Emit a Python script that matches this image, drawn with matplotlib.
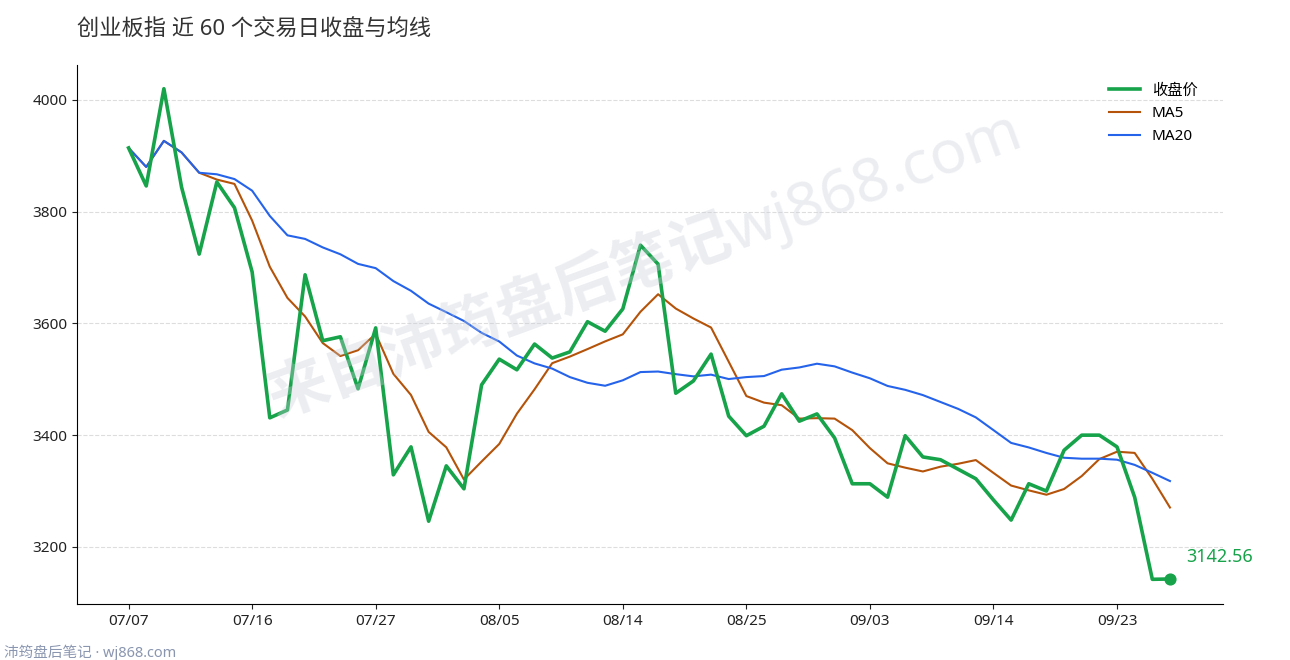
import matplotlib
matplotlib.use("Agg")
import matplotlib.pyplot as plt
import pandas as pd

plt.rcParams['font.family'] = ['Noto Sans', 'Noto Sans CJK SC', 'DejaVu Sans']

close = [3914, 3846, 4020, 3844, 3724, 3853, 3807, 3692, 3431, 3445,
         3687, 3569, 3576, 3483, 3592, 3329, 3379, 3246, 3345, 3304,
         3490, 3536, 3517, 3563, 3538, 3549, 3603, 3586, 3626, 3740,
         3706, 3475, 3497, 3545, 3434, 3399, 3416, 3474, 3425, 3438,
         3395, 3313, 3313, 3289, 3399, 3361, 3356, 3339, 3322, 3284,
         3248, 3313, 3300, 3373, 3400, 3400, 3379, 3289, 3142, 3142.56]
tick_labels = ["07/07", "07/16", "07/27", "08/05", "08/14", "08/25", "09/03", "09/14", "09/23"]
tick_step = 7

s = pd.Series(close)
ma5 = s.rolling(5, min_periods=1).mean()
ma20 = s.rolling(20, min_periods=1).mean()
x = list(range(len(close)))

fig = plt.figure(figsize=(12.9, 6.6), dpi=100)
ax = fig.add_axes([0.06, 0.085, 0.888, 0.817])
ax.plot(x, close, color='#16a34a', lw=2.6, label='收盘价', zorder=3)
ax.plot(x, ma5, color='#b45309', lw=1.5, label='MA5', zorder=2)
ax.plot(x, ma20, color='#2563eb', lw=1.5, label='MA20', zorder=2)
ax.scatter([x[-1]], [close[-1]], color='#16a34a', s=60, zorder=4)
ax.annotate(f"{close[-1]:.2f}", (x[-1], close[-1]), xytext=(12, 12), textcoords='offset points',
            color='#16a34a', fontsize=13, fontweight='bold')

ax.set_xlim(-2.9, 62)
ax.set_ylim(3098, 4063)
ax.set_yticks([3200, 3400, 3600, 3800, 4000])
ax.set_xticks([i * tick_step for i in range(len(tick_labels))])
ax.set_xticklabels(tick_labels)
ax.tick_params(labelsize=11, colors='#222222')
ax.grid(axis='y', color='#dddddd', ls='--', lw=0.8)
for sp in ['top', 'right']:
    ax.spines[sp].set_visible(False)
ax.legend(loc='upper right', frameon=False, fontsize=11, bbox_to_anchor=(0.99, 0.99))
fig.text(0.06, 0.945, "创业板指 近 60 个交易日收盘与均线", fontsize=16, color='#333333')
fig.text(0.5, 0.6, "来自沛筠盘后笔记wj868.com", fontsize=44, color='#c8cdd8', alpha=0.35,
         rotation=20, ha='center', va='center', fontweight='bold')
fig.text(0.003, 0.005, "沛筠盘后笔记 · wj868.com", fontsize=10.5, color='#8a96b0')
fig.savefig("out.png")
